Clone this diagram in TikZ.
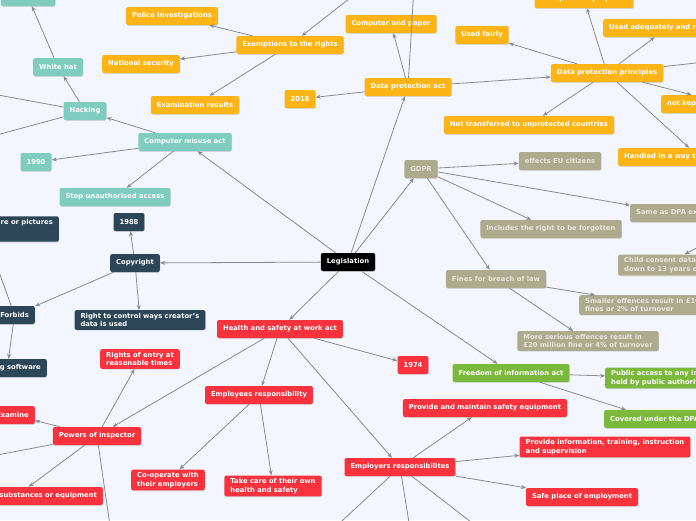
\documentclass[tikz,border=0pt]{standalone}
\usepackage{fontspec}
\setmainfont{DejaVu Sans}
\usetikzlibrary{arrows.meta,shadows}
\definecolor{bgcol}{HTML}{F3F6FE}
\definecolor{dpacol}{HTML}{FDB417}
\definecolor{cmacol}{HTML}{7ECDC0}
\definecolor{cpycol}{HTML}{2D4657}
\definecolor{hscol}{HTML}{F9333D}
\definecolor{foicol}{HTML}{7AB93B}
\definecolor{gdprcol}{HTML}{ADAA8E}
\definecolor{gdprtxt}{HTML}{E9E7DA}
\definecolor{linkcol}{HTML}{8A8A8A}

\begin{document}
\begin{tikzpicture}[x=1pt, y=-1pt,
    topic/.style={rounded corners=2pt, inner xsep=6pt, inner ysep=3pt,
                  minimum height=18pt, text=white,
                  font=\fontsize{6.8}{8.3}\selectfont\bfseries, align=left,
                  drop shadow={shadow xshift=0.5pt, shadow yshift=-0.8pt, opacity=0.25}},
    dpa/.style={topic, fill=dpacol},
    cma/.style={topic, fill=cmacol},
    cpy/.style={topic, fill=cpycol},
    hs/.style={topic, fill=hscol},
    foi/.style={topic, fill=foicol},
    gdpr/.style={topic, fill=gdprcol, text=gdprtxt},
    link/.style={draw=linkcol, thick, -{Stealth[length=5pt,width=4pt]}}]
  \useasboundingbox (0,0) rectangle (696,520);
  \fill[bgcol] (0,0) rectangle (696,520);
  \clip (0,0) rectangle (696,520);

  % centre
  \node[topic, fill=black] (legis) at (348,262) {Legislation};

  % data protection act
  \node[dpa] (dpact) at (408,87) {Data protection act};
  \node[dpa] (comppaper) at (391,24) {Computer and paper};
  \node[dpa] (y2018) at (300,99) {2018};
  \node[dpa] (exempt) at (290,45) {Exemptions to the rights};
  \node[dpa] (police) at (172,16) {Police investigations};
  \node[dpa] (natsec) at (141,64) {National security};
  \node[dpa] (exams) at (195,105) {Examination results};
  \node[dpa] (dpp) at (607,73) {Data protection principles};
  \node[dpa] (fairly) at (482,35) {Used fairly};
  \node[dpa] (specified) at (584,-1) {For specified purposes};
  \node[dpa, anchor=west] (adequate) at (603,28) {Used adequately and relevant};
  \node[dpa, anchor=west] (notkept) at (661,104) {not kept longer than necessary};
  \node[dpa] (transfer) at (529,125) {Not transferred to unprotected countries};
  \node[dpa, anchor=west] (secure) at (618,157) {Handled in a way that ensures security};
  \coordinate (rightsa) at (415,-30);
  \coordinate (rightsb) at (386,-30);
  \coordinate (dppmore) at (740,58);

  % GDPR
  \node[gdpr] (gdpr) at (421,169) {GDPR};
  \node[gdpr] (euciti) at (560,161) {effects EU citizens};
  \node[gdpr, anchor=west] (samedpa) at (630,213) {Same as DPA except};
  \node[gdpr] (forgot) at (551,229) {Includes the right to be forgotten};
  \node[gdpr, anchor=west] (consent) at (618,265) {Child consent data\\down to 13 years old};
  \node[gdpr] (fines) at (496,279) {Fines for breach of law};
  \node[gdpr, anchor=west] (smaller) at (579,305) {Smaller offences result in £10 million\\fines or 2\% of turnover};
  \node[gdpr] (serious) at (588,341) {More serious offences result in\\£20 million fine or 4\% of turnover};
  \coordinate (consentin) at (740,225);

  % freedom of information
  \node[foi] (foiact) at (511,373) {Freedom of information act};
  \node[foi, anchor=west] (pubaccess) at (605,378) {Public access to any information\\held by public authorities};
  \node[foi, anchor=west] (covered) at (604,419) {Covered under the DPA};

  % computer misuse
  \node[cma] (cmact) at (185,142) {Computer misuse act};
  \node[cma] (hacking) at (85,111) {Hacking};
  \node[cma] (whitehat) at (58,67) {White hat};
  \node[cma] (permission) at (28,-3) {Permission};
  \node[cma] (y1990) at (36,162) {1990};
  \node[cma] (stopacc) at (115,197) {Stop unauthorised access};
  \coordinate (hackup) at (-40,88);
  \coordinate (hackdown) at (-40,145);

  % copyright
  \node[cpy] (copyright) at (135,263) {Copyright};
  \node[cpy] (y1988) at (129,222) {1988};
  \node[cpy, anchor=east] (pictures) at (59,229) {Copying music, software or pictures\\[6pt]};
  \node[cpy, anchor=east] (forbids) at (35,315) {Forbids};
  \node[cpy, anchor=east] (software) at (47,368) {Copying software};
  \node[cpy] (control) at (140,320) {Right to control ways creator's\\data is used};

  % health and safety
  \node[hs] (hsact) at (280,329) {Health and safety at work act};
  \node[hs] (y1974) at (413,365) {1974};
  \node[hs] (entry) at (140,359) {Rights of entry at\\reasonable times};
  \node[hs] (powers) at (97,436) {Powers of inspector};
  \node[hs, anchor=east] (examine) at (35,415) {Examine};
  \node[hs, anchor=east] (samples) at (103,496) {Take samples of substances or equipment};
  \node[hs] (employees) at (259,395) {Employees responsibility};
  \node[hs] (cooperate) at (168,480) {Co-operate with\\their employers};
  \node[hs] (owncare) at (273,486) {Take care of their own\\health and safety};
  \node[hs] (employers) at (400,467) {Employers responsibilites};
  \node[hs] (equipment) at (485,408) {Provide and maintain safety equipment};
  \node[hs] (training) at (605,447) {Provide information, training, instruction\\and supervision};
  \node[hs] (safeplace) at (582,497) {Safe place of employment};
  \coordinate (powleft) at (-40,462);
  \coordinate (powdown) at (115,560);
  \coordinate (empa) at (300,560);
  \coordinate (empb) at (415,560);
  \coordinate (empc) at (520,560);

  % connectors
  \foreach \a/\b in {legis/cmact, legis/copyright, legis/dpact, legis/gdpr,
                     legis/hsact, legis/foiact,
                     dpact/comppaper, dpact/y2018, dpact/dpp, dpact/rightsa,
                     rightsb/exempt, exempt/police, exempt/natsec, exempt/exams,
                     dpp/fairly, dpp/specified, dpp/adequate, dpp/notkept,
                     dpp/transfer, dpp/secure, dpp/dppmore,
                     gdpr/euciti, gdpr/samedpa, gdpr/forgot, gdpr/fines,
                     consentin/consent, fines/smaller, fines/serious,
                     foiact/pubaccess, foiact/covered,
                     cmact/hacking, cmact/y1990, cmact/stopacc,
                     hacking/whitehat, hacking/hackup, hacking/hackdown,
                     whitehat/permission,
                     copyright/y1988, copyright/forbids, copyright/control,
                     forbids/pictures, forbids/software,
                     hsact/y1974, hsact/powers, hsact/employees, hsact/employers,
                     powers/entry, powers/examine, powers/samples,
                     powers/powleft, powers/powdown,
                     employees/cooperate, employees/owncare,
                     employers/equipment, employers/training, employers/safeplace,
                     employers/empa, employers/empb, employers/empc}
    \draw[link] (\a) -- (\b);
\end{tikzpicture}
\end{document}
